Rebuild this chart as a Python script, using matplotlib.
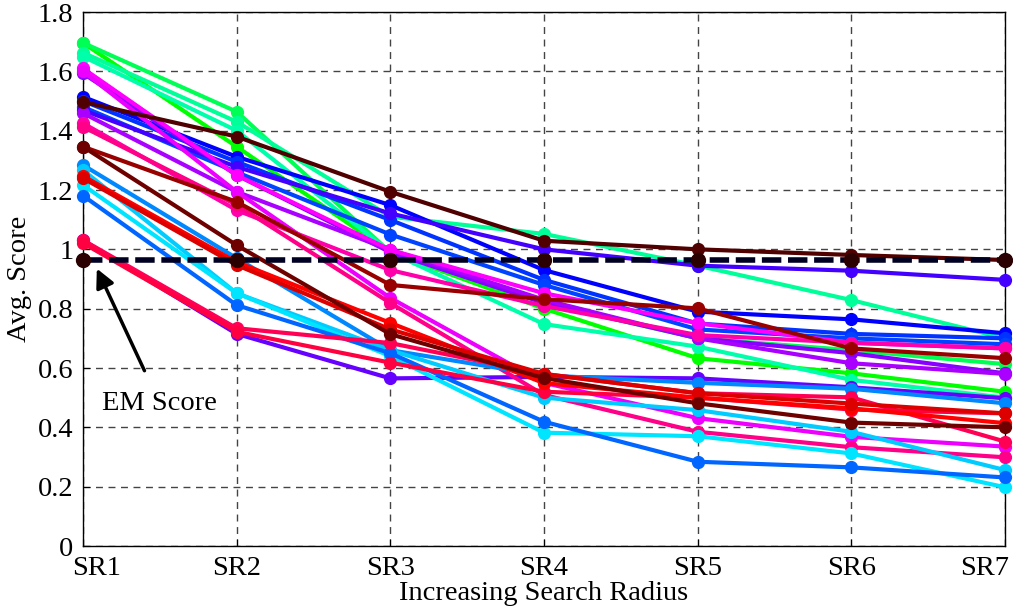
import matplotlib
matplotlib.use('Agg')
import matplotlib.pyplot as plt
import matplotlib.transforms as mtransforms

plt.rcParams['font.family'] = ['Liberation Serif', 'DejaVu Serif']

radii = ['SR1', 'SR2', 'SR3', 'SR4', 'SR5', 'SR6', 'SR7']
xs = range(1, 8)

# one score list per run (SR1..SR7)
green1 = [1.696, 1.346, 0.99, 0.80, 0.633, 0.582, 0.520]
green2 = [1.696, 1.464, 0.99, 0.82, 0.70, 0.66, 0.613]
aqua1 = [1.663, 1.430, 1.11, 1.052, 0.945, 0.829, 0.70]
aqua2 = [1.65, 1.40, 0.99, 0.748, 0.672, 0.56, 0.50]
blue1 = [1.514, 1.312, 1.149, 0.93, 0.79, 0.764, 0.717]
blue2 = [1.50, 1.295, 1.099, 0.897, 0.75, 0.715, 0.70]
blue3 = [1.48, 1.26, 1.05, 0.88, 0.73, 0.70, 0.68]
bviolet = [1.469, 1.278, 1.121, 1.0, 0.945, 0.928, 0.897]
violet1 = [1.593, 1.25, 0.99, 0.819, 0.701, 0.650, 0.582]
purple1 = [1.459, 1.194, 0.998, 0.83, 0.70, 0.616, 0.58]
violet2 = [1.03, 0.715, 0.565, 0.57, 0.565, 0.535, 0.498]
magenta1 = [1.610, 1.25, 0.998, 0.852, 0.751, 0.685, 0.666]
magenta2 = [1.60, 1.194, 0.836, 0.55, 0.431, 0.368, 0.335]
hotpink = [1.425, 1.132, 0.93, 0.809, 0.711, 0.685, 0.666]
deeppink = [1.413, 1.15, 0.819, 0.509, 0.385, 0.333, 0.299]
crimson1 = [1.031, 0.734, 0.684, 0.58, 0.515, 0.501, 0.352]
crimson2 = [1.021, 0.722, 0.618, 0.52, 0.50, 0.46, 0.447]
red1 = [1.247, 0.957, 0.752, 0.549, 0.50, 0.464, 0.414]
red2 = [1.240, 0.947, 0.73, 0.58, 0.515, 0.48, 0.447]
maroon1 = [1.346, 1.160, 0.880, 0.832, 0.801, 0.666, 0.633]
maroon2 = [1.346, 1.014, 0.714, 0.566, 0.481, 0.416, 0.400]
darkbrown = [1.497, 1.380, 1.194, 1.029, 1.0, 0.981, 0.964]
azure = [1.284, 0.97, 0.66, 0.575, 0.55, 0.53, 0.481]
lightblue = [1.267, 0.852, 0.66, 0.50, 0.458, 0.385, 0.256]
cyan = [1.217, 0.852, 0.64, 0.382, 0.37, 0.312, 0.198]
dodger = [1.181, 0.812, 0.65, 0.419, 0.284, 0.265, 0.231]
em = [0.964] * 7

runs = [
    (green1, '#00ff00'), (green2, '#00ff55'), (aqua1, '#00ff99'), (aqua2, '#00ffaa'),
    (blue1, '#0000ff'), (blue2, '#0033ff'), (blue3, '#0044ff'), (bviolet, '#4400ff'),
    (violet1, '#8800ff'), (purple1, '#aa00ff'), (violet2, '#6600ff'),
    (magenta1, '#ff00ff'), (magenta2, '#ee00ff'), (hotpink, '#ff00aa'), (deeppink, '#ff0088'),
    (azure, '#0088ff'), (lightblue, '#00ccff'), (cyan, '#00e5ff'), (dodger, '#0066ff'),
    (crimson1, '#ff0055'), (crimson2, '#ff0040'), (red1, '#ff0000'), (red2, '#dd0000'),
    (maroon1, '#990000'), (maroon2, '#6e0000'), (darkbrown, '#500000'),
]

fig = plt.figure(figsize=(10.13, 6.07), dpi=100)
ax = fig.add_axes([83/1013, 61/607, 922/1013, 534/607])

for vals, col in runs:
    ax.plot(xs, vals, '-o', color=col, lw=3, ms=8.5, clip_on=False, zorder=3)

ax.plot(xs, em, '--o', color='#000022', mfc='#2a0000', mec='#2a0000', lw=4,
        dashes=(3.5, 1.2), ms=10, clip_on=False, zorder=4)

ax.annotate('EM Score', xy=(1.09, 0.935), xytext=(1.5, 0.48), fontsize=20.5,
            ha='center', va='center',
            arrowprops=dict(arrowstyle='-|>', color='k', lw=2.5, mutation_scale=28,
                            shrinkA=14, shrinkB=0))

ax.set_xlim(1, 7)
ax.set_ylim(0, 1.8)
ax.set_xticks(list(xs))
ax.set_xticklabels(radii)
ax.set_yticks([0, 0.2, 0.4, 0.6, 0.8, 1.0, 1.2, 1.4, 1.6, 1.8])
ax.set_yticklabels(['0', '0.2', '0.4', '0.6', '0.8', '1', '1.2', '1.4', '1.6', '1.8'])
ax.tick_params(direction='in', labelsize=20.5, length=5, pad=7)
ax.grid(True, color='#444444', ls=(0, (5, 4)), lw=1)
for s in ax.spines.values():
    s.set_linewidth(1)

# edge tick labels are pushed inward, as in the reference
labels = ax.get_xticklabels()
labels[0].set_transform(labels[0].get_transform() +
                        mtransforms.ScaledTranslation(0.14, 0, fig.dpi_scale_trans))
labels[-1].set_transform(labels[-1].get_transform() +
                         mtransforms.ScaledTranslation(-0.2, 0, fig.dpi_scale_trans))

ax.set_xlabel('Increasing Search Radius', fontsize=20.5, labelpad=0)
ax.set_ylabel('Avg. Score', fontsize=20.5, labelpad=4)

fig.savefig('out.png', dpi=100)
